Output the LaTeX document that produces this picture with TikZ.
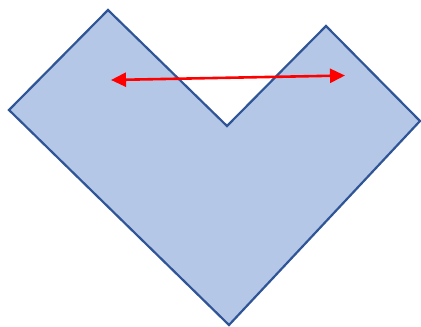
\documentclass[tikz,border=0pt]{standalone}
\usetikzlibrary{arrows.meta}
\definecolor{shapefill}{HTML}{B4C7E7}
\definecolor{shapeline}{HTML}{2F5597}
\definecolor{arrowred}{HTML}{FF0000}
\tikzset{
  vshape/.style={fill=shapefill, draw=shapeline, line width=2.2pt, line join=miter},
  redarrow/.style={draw=arrowred, line width=2.6pt, {Triangle[length=15pt,width=14pt]}-{Triangle[length=15pt,width=14pt]}}
}
\begin{document}
\begin{tikzpicture}[x=1pt,y=-1pt]
\useasboundingbox (0,0) rectangle (421,327);
\draw[vshape] (108,10) -- (227,126) -- (326,26) -- (420,121) -- (229,325) -- (9,110) -- cycle;
\coordinate (l) at (111,80);
\coordinate (r) at (345,75.5);
\draw[redarrow] (l) -- (r);
\end{tikzpicture}
\end{document}
